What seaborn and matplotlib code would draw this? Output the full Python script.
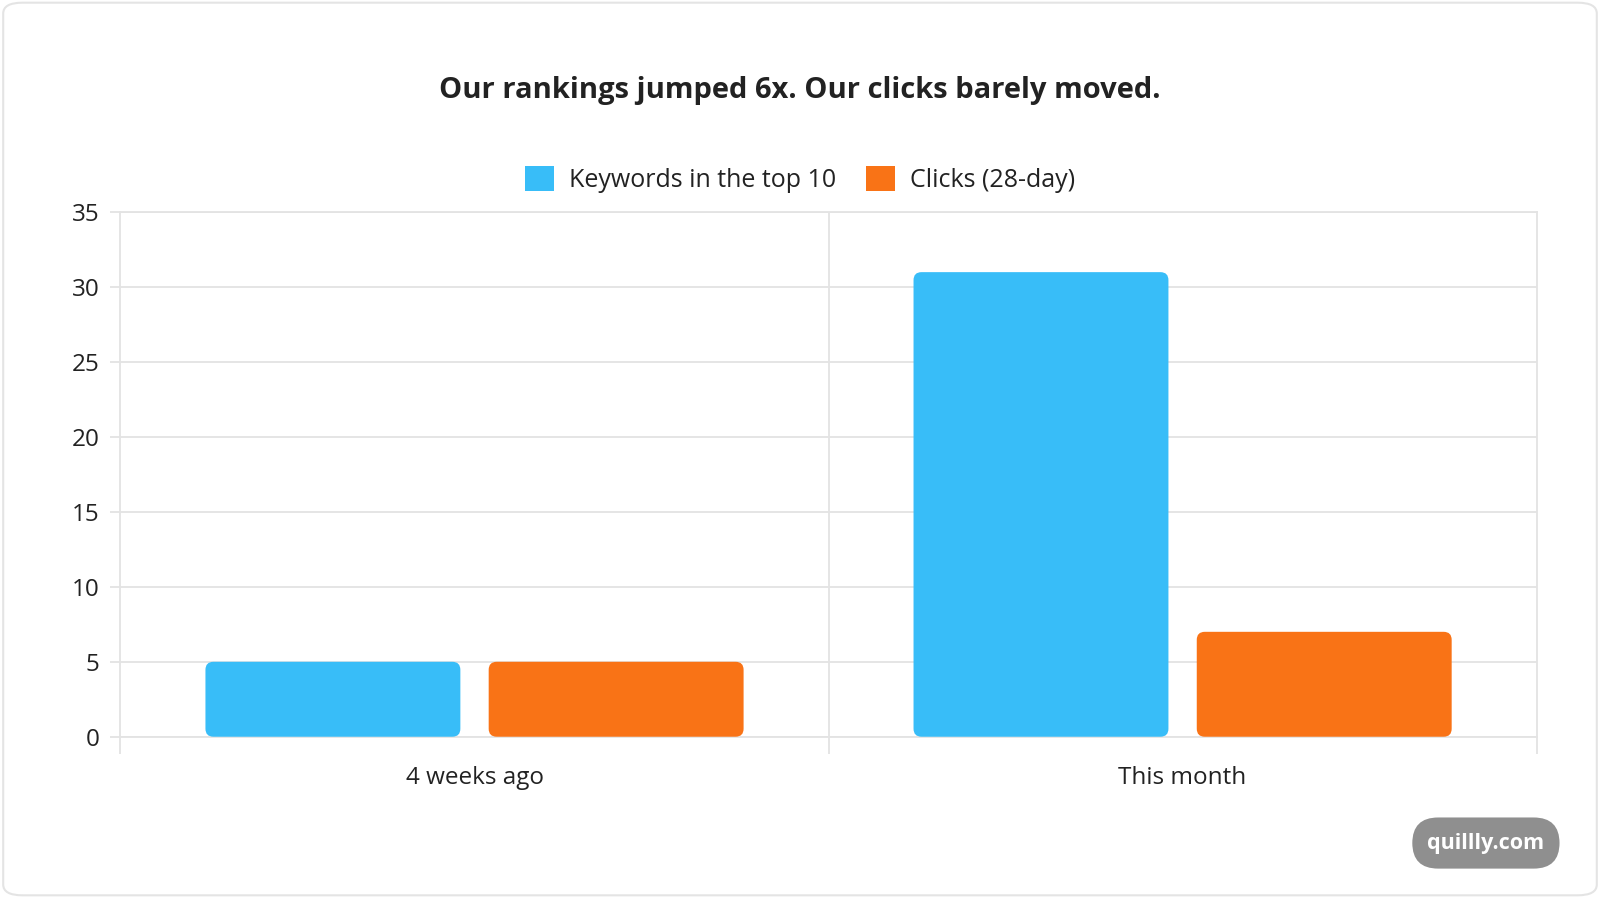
import numpy as np
import pandas as pd
import matplotlib.pyplot as plt
import seaborn as sns
from matplotlib.patches import FancyBboxPatch, Patch

periods = ['4 weeks ago', 'This month']
series = ['Keywords in the top 10', 'Clicks (28-day)']
keywords = [5, 31]
clicks = [5, 7]
colors = ['#38BDF8', '#F97316']
y_ticks = [0, 5, 10, 15, 20, 25, 30, 35]

df = pd.DataFrame({
    'period': periods * 2,
    'series': [series[0]] * len(periods) + [series[1]] * len(periods),
    'value': keywords + clicks,
})

sns.set_theme(style='white')
plt.rcParams['font.family'] = ['Open Sans', 'DejaVu Sans']
GRID = '#e3e3e3'
TEXT = '#222222'

fig = plt.figure(figsize=(16, 8.98), dpi=100)
ax = fig.add_axes([0.0753, 0.1796, 0.8851, 0.5841])

sns.barplot(data=df, x='period', y='value', hue='series', palette=colors,
            width=0.8, gap=0.1, legend=False, ax=ax, saturation=1)

ax.set_xlim(-0.5, 1.5)
ax.set_ylim(0, 35)
ax.set_yticks(y_ticks)
ax.set_xlabel('')
ax.set_ylabel('')

# round the bar corners
fig.canvas.draw()
bbox = ax.get_window_extent()
x_per_px = 2.0 / bbox.width
y_per_px = 35.0 / bbox.height
r = 8 * x_per_px
aspect = y_per_px / x_per_px
bars = list(ax.patches)
for p in bars:
    x, y = p.get_x(), p.get_y()
    w, h = p.get_width(), p.get_height()
    fc = p.get_facecolor()
    p.remove()
    ax.add_patch(FancyBboxPatch((x, y), w, h,
                                boxstyle=f'round,pad=0,rounding_size={r}',
                                mutation_aspect=aspect, facecolor=fc,
                                edgecolor='none', zorder=3))

ax.grid(axis='y', color=GRID, linewidth=1.3, zorder=0)
ax.set_axisbelow(True)
for s in ax.spines.values():
    s.set_color(GRID)
    s.set_linewidth(1.3)
ax.set_xticks([-0.5, 0.5, 1.5], minor=True)
ax.axvline(0.5, color=GRID, linewidth=1.3, zorder=0)
ax.tick_params(axis='x', which='major', length=0, pad=21, labelsize=17.5, labelcolor=TEXT)
ax.tick_params(axis='x', which='minor', bottom=True, length=12, width=1.3,
               color=GRID, direction='out')
ax.tick_params(axis='y', length=7, width=1.3, color=GRID, pad=8, labelsize=17.5,
               labelcolor=TEXT, left=True)

fig.text(0.5, 0.899, 'Our rankings jumped 6x. Our clicks barely moved.',
         ha='center', va='center', fontsize=21, fontweight='bold', color=TEXT)

handles = [Patch(facecolor=c, edgecolor='none') for c in colors]
fig.legend(handles, series, loc='center', bbox_to_anchor=(0.5, 0.8), ncol=2,
           frameon=False, fontsize=18, handlelength=1.15, handleheight=1.15,
           handletextpad=0.6, columnspacing=1.2, labelcolor=TEXT)

# card outline
fig.patches.append(FancyBboxPatch((0.002, 0.003), 0.996, 0.994,
                                  boxstyle='round,pad=0,rounding_size=0.012',
                                  transform=fig.transFigure, facecolor='none',
                                  edgecolor='#e4e4e4', linewidth=1.5))

fig.text(0.9287, 0.0612, 'quillly.com', ha='center', va='center', fontsize=15.5,
         fontweight='bold', color='white',
         bbox=dict(boxstyle='round,pad=0.7,rounding_size=1.2', facecolor='#8f8f8f',
                   edgecolor='none'))

fig.savefig('out.png', dpi=100, facecolor='white')
